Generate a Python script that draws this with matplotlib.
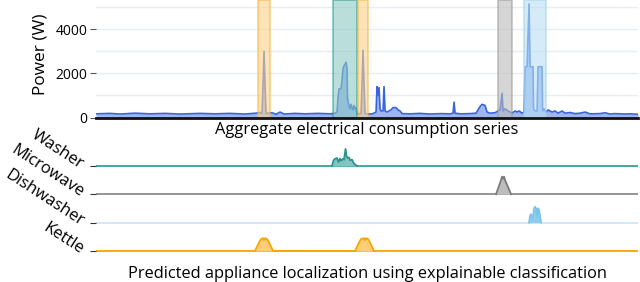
import matplotlib
matplotlib.use("Agg")
import matplotlib.pyplot as plt
import numpy as np

plt.rcParams['font.family'] = ['Open Sans', 'DejaVu Sans']

# aggregate power series: (sample index, watts)
agg_points = [
    (0, 170), (14, 190), (24, 160), (39, 200), (54, 170), (69, 190), (84, 160),
    (104, 190), (119, 170), (134, 190), (149, 160), (160, 200),
    (164, 230), (166, 180), (167, 1500), (168, 3000), (169, 1500), (170, 180),
    (172, 200), (176, 220), (180, 150), (184, 250), (188, 160), (199, 190),
    (209, 170), (222, 190), (234, 170), (239, 200),
    (241, 250), (242, 900), (243, 1300), (245, 1300), (246, 1700), (247, 2200),
    (248, 2350), (249, 2400), (250, 2500), (251, 2200), (251.5, 900), (252, 700),
    (253, 550), (254, 400), (255, 600), (256, 450), (257, 350), (258, 550),
    (259, 400), (260, 450), (261, 150),
    (262, 180), (265, 180), (266, 1500), (267, 3050), (268, 1500), (269, 180),
    (272, 170), (276, 160),
    (280, 250), (281, 1400), (282, 1000), (283, 1350), (284, 400), (285, 300),
    (287, 300), (288, 1400), (289, 300),
    (291, 250), (295, 350), (297, 450), (300, 450), (302, 350), (304, 300),
    (306, 180), (314, 170), (324, 190), (334, 160), (344, 180), (354, 170),
    (357, 200), (358, 700), (359, 200),
    (364, 170), (374, 180), (380, 200), (382, 350), (384, 500), (386, 600),
    (389, 550), (391, 250), (394, 200), (399, 220), (402, 300), (404, 350),
    (406, 1100), (407, 300), (409, 400), (412, 300), (416, 200), (419, 300),
    (421, 250), (423, 300), (426, 200),
    (428, 250), (429, 2300), (431, 2300), (433, 5150), (434, 2300), (437, 2300),
    (437.5, 400), (439, 300), (441, 300), (442, 2300), (446, 2300), (446.5, 300),
    (448, 400), (450, 250), (452, 350), (454, 300),
    (456, 250), (459, 300), (462, 200), (466, 300), (469, 200), (474, 230),
    (479, 180), (484, 200), (489, 250), (494, 170), (504, 180), (509, 220),
    (514, 160), (519, 180), (524, 170), (529, 160), (534, 170), (542, 150),
]
agg_t = [p[0] for p in agg_points]
agg_w = [p[1] for p in agg_points]

# highlighted appliance windows
win_start = [162, 237, 262, 402, 428]
win_end = [174, 261, 272, 416, 450]
win_app = ['Kettle', 'Washer', 'Kettle', 'Microwave', 'Dishwasher']

appliances = ['Washer', 'Microwave', 'Dishwasher', 'Kettle']
line_col = {'Washer': '#35a39a', 'Microwave': '#8c8c8c', 'Dishwasher': '#cde8f6', 'Kettle': '#f7a600'}
peak_col = {'Washer': '#2a948b', 'Microwave': '#7a7a7a', 'Dishwasher': '#7cc4ea', 'Kettle': '#f7a600'}
fill_col = {'Washer': '#7ec6bf', 'Microwave': '#bdbdbd', 'Dishwasher': '#8ccdf0', 'Kettle': '#fdcd78'}
box_face = {'Washer': '#8ccac4', 'Microwave': '#bcbcbc', 'Dishwasher': '#b9e0f4', 'Kettle': '#fdd38a'}
box_edge = {'Washer': '#2a9a90', 'Microwave': '#9a9a9a', 'Dishwasher': '#9fd3ef', 'Kettle': '#f5b53a'}

# predicted activations: (sample index, fraction of row)
pred_t = {
    'Washer': [236, 237.5, 239, 241, 242.5, 244, 245, 247, 248, 249.5, 250.5, 251.5, 253, 254, 256, 258, 261],
    'Microwave': [400, 405, 406, 407, 408, 409, 415],
    'Dishwasher': [433, 434, 435, 436, 437, 438, 439, 440, 441, 442, 443, 445],
    'Kettle': [159, 163, 165, 167, 168, 169, 171, 173, 177,
               259, 263, 265, 268, 269, 270, 272, 274, 278],
}
pred_v = {
    'Washer': [0, 0.2, 0.25, 0.28, 0.14, 0.26, 0.18, 0.25, 0.22, 0.6, 0.35, 0.28, 0.3, 0.2, 0.22, 0.08, 0],
    'Microwave': [0, 0.5, 0.62, 0.55, 0.62, 0.5, 0],
    'Dishwasher': [0, 0.25, 0.3, 0.15, 0.2, 0.5, 0.56, 0.5, 0.2, 0.5, 0.45, 0],
    'Kettle': [0, 0.3, 0.42, 0.45, 0.38, 0.45, 0.42, 0.3, 0,
               0, 0.3, 0.42, 0.45, 0.38, 0.45, 0.42, 0.3, 0],
}

fig = plt.figure(figsize=(6.4, 2.82), dpi=100)
xmax = 542

# ---- aggregate series
ax = fig.add_axes([0.15, 0.583, 0.847, 0.417])
ax.fill_between(agg_t, agg_w, 0, color='#93aef0', alpha=0.9, lw=0, zorder=2)
ax.plot(agg_t, agg_w, color='#3a64da', lw=1.2, zorder=3)
for s, e, a in zip(win_start, win_end, win_app):
    ax.axvspan(s, e, facecolor=box_face[a], edgecolor=box_edge[a], alpha=0.6, lw=1.2, zorder=4)
ax.set_xlim(0, xmax)
ax.set_ylim(0, 5320)
ax.set_yticks([0, 2000, 4000])
ax.set_yticks([1000, 3000, 5000], minor=True)
ax.yaxis.grid(True, which='both', color='#e8edf3', lw=1, zorder=0)
ax.set_axisbelow(True)
ax.tick_params(axis='y', which='major', length=4, width=0.8, color='#555555', labelsize=10, pad=2)
ax.tick_params(axis='y', which='minor', length=0)
ax.set_xticks([])
for sp in ['top', 'right', 'left']:
    ax.spines[sp].set_visible(False)
ax.spines['bottom'].set_linewidth(2)
ax.spines['bottom'].set_color('#111111')
ax.spines['bottom'].set_zorder(5)
ax.set_ylabel('Power (W)', fontsize=12.4)
ax.yaxis.set_label_coords(-0.087, 0.54)
ax.set_xlabel('Aggregate electrical consumption series', fontsize=11.8, labelpad=3)

# ---- predicted localisation
bx = fig.add_axes([0.15, 0.08, 0.847, 0.402])
for i, a in enumerate(appliances):
    off = len(appliances) - 1 - i
    y = np.array(pred_v[a]) + off
    bx.axhline(off, color=line_col[a], lw=1.3, zorder=1)
    bx.fill_between(pred_t[a], y, off, color=fill_col[a], lw=0, zorder=2)
    bx.plot(pred_t[a], y, color=peak_col[a], lw=1.3, zorder=3)
bx.set_xlim(0, xmax)
bx.set_ylim(-0.3, 3.7)
bx.set_yticks([3, 2, 1, 0])
bx.set_yticklabels(appliances, rotation=-33, ha='right', va='center', rotation_mode='anchor', fontsize=12)
bx.tick_params(axis='y', length=4, width=0.8, color='#333333', pad=6)
bx.set_xticks([])
for sp in bx.spines.values():
    sp.set_visible(False)
bx.set_xlabel('Predicted appliance localization using explainable classification', fontsize=11.8, labelpad=5)

fig.savefig('out.png', dpi=100)
